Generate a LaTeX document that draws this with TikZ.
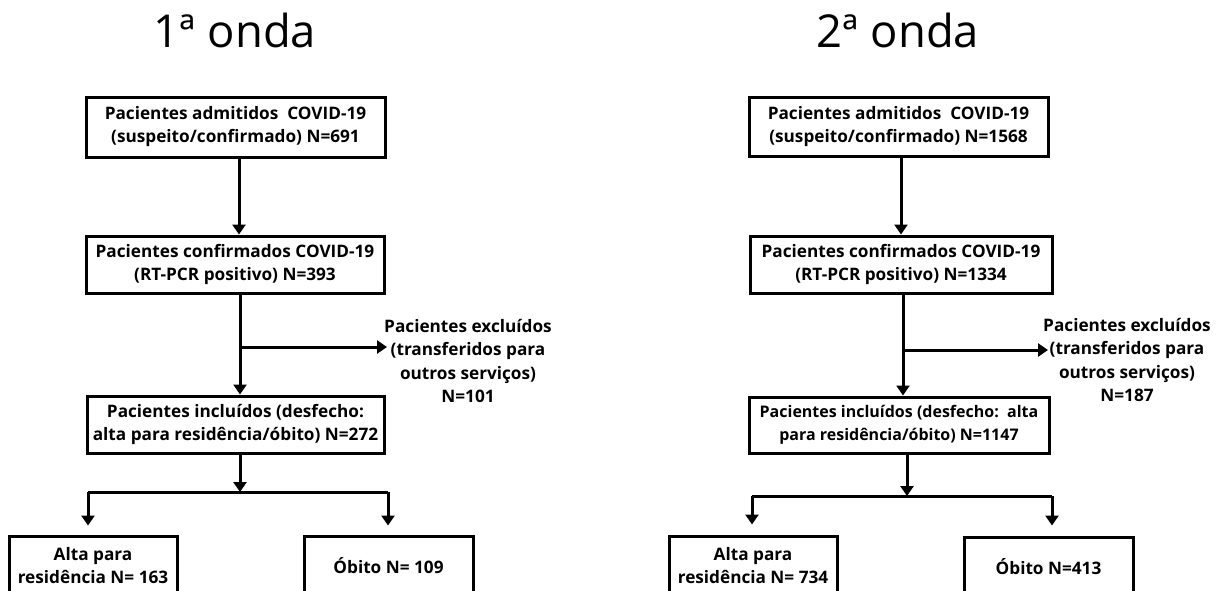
\documentclass[tikz,border=0pt]{standalone}
\usepackage{fontspec}
\setmainfont{Open Sans}
\usetikzlibrary{positioning,arrows.meta}

\tikzset{
  box/.style={draw=black, line width=3pt, inner sep=0pt, align=center,
    font=\bfseries\fontsize{17.2}{23}\selectfont},
  excl/.style={inner sep=0pt, align=center, font=\bfseries\fontsize{17.2}{23.3}\selectfont},
  ttl/.style={anchor=base, inner sep=0pt, font=\fontsize{45.4}{50}\selectfont},
  arr/.style={line width=3pt, -{Triangle[width=13pt,length=10pt]}},
  ln/.style={line width=3pt}
}

\begin{document}
\begin{tikzpicture}[x=1pt,y=-1pt]
                \useasboundingbox (0,0) rectangle (1217,590);
                \clip (0,0) rectangle (1217,590);
                
                % 1a onda
                \node[ttl] (t1) at (235,47) {1ª onda};
                \node[box, minimum width=299pt, minimum height=60pt] (l1) at (235.5,127) {Pacientes admitidos\ \ COVID-19\\(suspeito/confirmado) N=691};
                \node[box, minimum width=298pt, minimum height=57pt] (l2) at (235,264.5) {Pacientes confirmados COVID-19\\(RT-PCR positivo) N=393};
                \node[box, minimum width=297pt, minimum height=57pt] (l3) at (235.5,424.5) {Pacientes incluídos (desfecho:\\alta para residência/óbito) N=272};
                \node[excl] (le) at (468,361) {Pacientes excluídos\\(transferidos para\\outros serviços)\\N=101};
                \node[box, minimum width=168pt, minimum height=60pt] (la) at (93,566) {Alta para\\residência N= 163};
                \node[box, minimum width=169pt, minimum height=60pt] (lo) at (388.5,566) {Óbito N= 109};
                
                \coordinate (ls) at (239,0);
                \coordinate (lb) at (240,347);
                \coordinate (lx) at (387,347);
                \coordinate (lf) at (240,492);
                \coordinate (lfl) at (88,492);
                \coordinate (lfr) at (388,492);
                
                \draw[arr] (l1.south -| ls) -- (l2.north -| ls);
                \draw[arr] (l2.south -| lb) -- (l3.north -| lb);
                \draw[arr] (lb) -- (lx);
                \draw[arr] (l3.south -| lf) -- (lf);
                \draw[ln] (lfl) -- (lfr);
                \draw[arr, shorten >=9pt] (lfl) -- (lfl |- la.north);
                \draw[arr, shorten >=9pt] (lfr) -- (lfr |- lo.north);
                
                % 2a onda
                \node[ttl] (t2) at (898,47) {2ª onda};
                \node[box, minimum width=299pt, minimum height=59pt] (r1) at (898.5,126.5) {Pacientes admitidos\ \ COVID-19\\(suspeito/confirmado) N=1568};
                \node[box, minimum width=302pt, minimum height=57pt] (r2) at (901,264.5) {Pacientes confirmados COVID-19\\(RT-PCR positivo) N=1334};
                \node[box, minimum width=300pt, minimum height=56pt, font=\bfseries\fontsize{16}{23}\selectfont] (r3) at (899,425) {Pacientes incluídos (desfecho:\ \ alta\\para residência/óbito) N=1147};
                \node[excl] (re) at (1127,360) {Pacientes excluídos\\(transferidos para\\outros serviços)\\N=187};
                \node[box, minimum width=168pt, minimum height=60pt] (ra) at (753,566) {Alta para\\residência N= 734};
                \node[box, minimum width=169pt, minimum height=60pt] (ro) at (1048.5,567) {Óbito N=413};
                
                \coordinate (rs) at (901,0);
                \coordinate (rb) at (903,350);
                \coordinate (rx) at (1048,350);
                \coordinate (rf) at (907,496);
                \coordinate (rfl) at (752,496);
                \coordinate (rfr) at (1052,496);
                
                \draw[arr] (r1.south -| rs) -- (r2.north -| rs);
                \draw[arr] (r2.south -| rb) -- (r3.north -| rb);
                \draw[arr] (rb) -- (rx);
                \draw[arr] (r3.south -| rf) -- (rf);
                \draw[ln] (rfl) -- (rfr);
                \draw[arr, shorten >=10pt] (rfl) -- (rfl |- ra.north);
                \draw[arr, shorten >=10pt] (rfr) -- (rfr |- ro.north);
            \end{tikzpicture}
\end{document}
